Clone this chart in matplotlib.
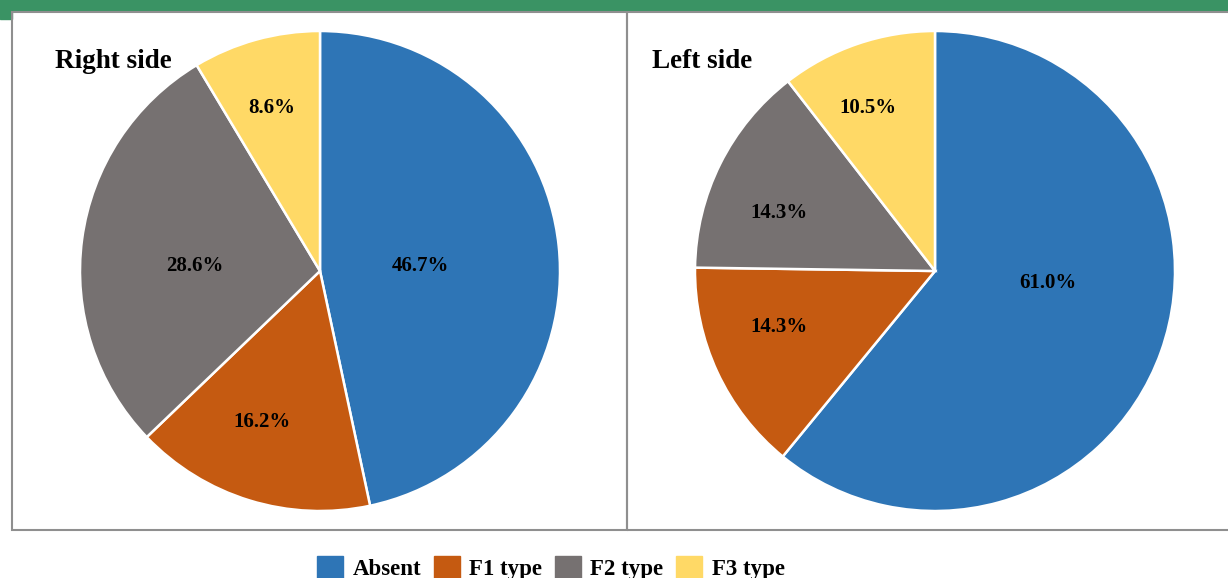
import matplotlib.pyplot as plt
from matplotlib.patches import Rectangle, Patch

categories = ["Absent", "F1 type", "F2 type", "F3 type"]
right_vals = [46.7, 16.2, 28.6, 8.6]
left_vals = [61.0, 14.3, 14.3, 10.5]
colors = ["#2E75B6", "#C55A11", "#767171", "#FFD966"]

# label spots inside each pie (unit radius)
right_lab = [(0.42, 0.02), (-0.24, -0.63), (-0.52, 0.02), (-0.20, 0.68)]
left_lab = [(0.47, -0.05), (-0.65, -0.235), (-0.65, 0.24), (-0.28, 0.68)]

plt.rcParams['font.family'] = ['Liberation Serif', 'DejaVu Serif']
plt.rcParams['font.weight'] = 'bold'

W, H = 1228, 578
fig = plt.figure(figsize=(W/100, H/100), dpi=100)

# green header bar
fig.patches.append(Rectangle((0, 1-11/H), 1, 11/H, transform=fig.transFigure, color="#3A9364", zorder=0))
fig.patches.append(Rectangle((0, 1-19/H), 12/W, 19/H, transform=fig.transFigure, color="#3A9364", zorder=0))
# panel frames
for x0, x1 in [(12, 627), (627, 1240)]:
    fig.patches.append(Rectangle((x0/W, 1-530/H), (x1-x0)/W, 518/H, transform=fig.transFigure,
                                 fill=False, edgecolor="#8f8f8f", lw=1.5, zorder=1))

r = 240
def draw(cx, vals, labs, title, tx):
    ax = fig.add_axes([(cx-r)/W, (H-271-r)/H, 2*r/W, 2*r/H])
    ax.pie(vals, colors=colors, startangle=90, counterclock=False, radius=1,
           wedgeprops=dict(edgecolor="white", linewidth=1.8))
    for v, (x, y) in zip(vals, labs):
        ax.text(x, y, f"{v:.1f}%", ha="center", va="center", fontsize=15, fontweight="bold")
    ax.set_xlim(-1.0, 1.0)
    ax.set_ylim(-1.0, 1.0)
    ax.set_aspect("equal")
    ax.axis("off")
    fig.text(tx/W, 1-62/H, title, fontsize=19.5, fontweight="bold", va="center", ha="left")

draw(320, right_vals, right_lab, "Right side", 55)
draw(935, left_vals, left_lab, "Left side", 652)

handles = [Patch(facecolor=c, edgecolor=c) for c in colors]
fig.legend(handles, categories, loc="center left", bbox_to_anchor=(317/W, 1-568/H),
           ncol=4, frameon=False, handlelength=1.15, handleheight=1.15,
           handletextpad=0.4, columnspacing=0.55, borderpad=0, borderaxespad=0,
           prop=dict(weight="bold", size=16.5))

fig.savefig("out.png", dpi=100)
